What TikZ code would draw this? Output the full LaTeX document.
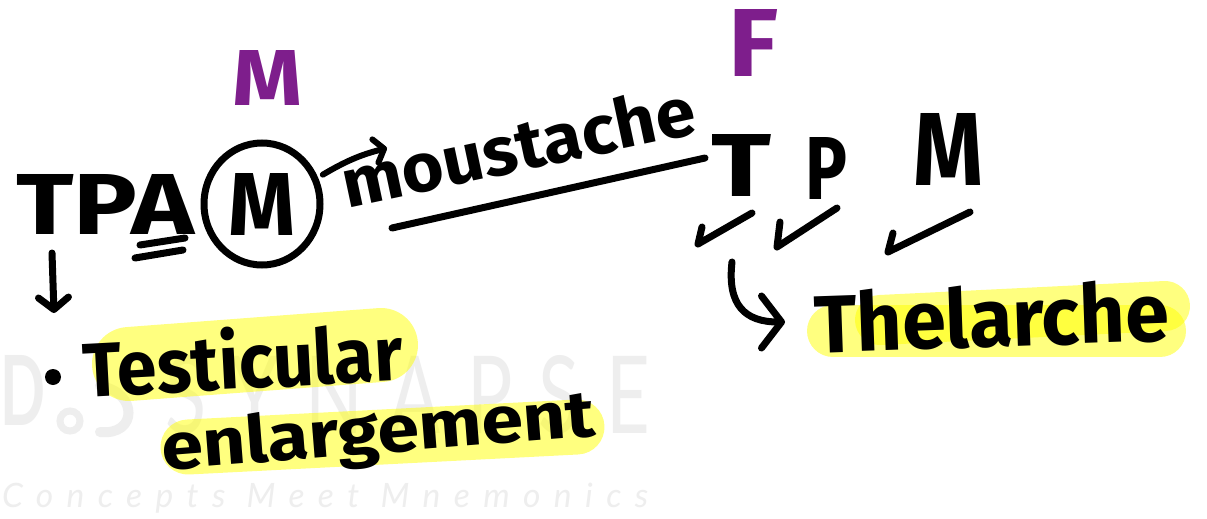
\documentclass[tikz,border=0pt]{standalone}
\usepackage{fontspec}
\setmainfont{Fira Sans}
\newfontfamily\wmfont{Lato}
\usepackage{graphicx}
\usetikzlibrary{arrows.meta,shapes.geometric}
\definecolor{mpurple}{RGB}{126,30,140}
\definecolor{hlyellow}{RGB}{255,255,0}
\definecolor{wmgray}{RGB}{238,238,238}
\tikzset{
  ink/.style={draw=black, line width=7pt, line cap=round, line join=round},
  hw/.style={inner sep=0pt, outer sep=0pt, text=black, font=\bfseries},
  hwp/.style={hw, text=mpurple},
  hl/.style={draw=hlyellow, draw opacity=0.5, line cap=round},
  wm/.style={inner sep=0pt, outer sep=0pt, text=wmgray, font=\wmfont},
}
\begin{document}
\begin{tikzpicture}[x=1pt,y=-1pt]
\useasboundingbox[fill=white] (0,0) rectangle (1207,519);

% watermark
\node[wm, anchor=base west, font=\wmfont\bfseries] (wmd) at (0,425) {\resizebox{45pt}{70pt}{D}};
\draw[wmgray, line width=7pt] (70,421) circle (10pt);
\draw[wmgray, line width=10pt, line cap=round] (100,386) .. controls (138,392) and (138,436) .. (100,432);
\node[wm, anchor=base west] (wmname) at (165,433) {\resizebox{485pt}{78pt}{\addfontfeatures{LetterSpace=35}SYNAPSE}};
\node[wm, anchor=base west] (wmtag) at (2,507) {\resizebox{646pt}{!}{\itshape\addfontfeatures{LetterSpace=40}Concepts Meet Mnemonics}};

% highlights
\draw[hl, line width=74pt] (129,364) -- (381,345);
\draw[hl, line width=55pt] (188,447) -- (577,427);
\draw[hl, line width=52pt] (833,331) -- (1160,331);
\draw[hl, line width=50pt] (880,320) -- (1165,306);

% purple labels
\node[hwp, anchor=base west] (mtop) at (232,105) {\resizebox{70pt}{55pt}{M}};
\node[hwp, anchor=base west] (ftop) at (728,77) {\resizebox{50pt}{67pt}{F}};

% TPAM
\node[hw, anchor=base west] (tpa) at (16,234) {\resizebox{178pt}{60pt}{TPA}};
\coordinate (ua1) at (140,245); \coordinate (ua2) at (185,238);
\coordinate (ub1) at (135,258); \coordinate (ub2) at (183,250);
\draw[ink] (ua1) -- (ua2);
\draw[ink] (ub1) -- (ub2);
\node[hw, draw, ellipse, line width=7pt, minimum width=116pt, minimum height=122pt] (cm) at (262,204) {\resizebox{67pt}{62pt}{M}};

% moustache
\node[hw, anchor=base west, rotate=12] (mous) at (347,208) {\resizebox{360pt}{52pt}{moustache}};
\coordinate (a1e) at (387,148);
\draw[ink, line width=6pt, -{Straight Barb[round,length=9pt,width=24pt]}] ([xshift=10pt]cm.30) to[bend left=8] (a1e);
\coordinate (ul1) at (392,228); \coordinate (ul2) at (705,158);
\draw[ink] (ul1) -- (ul2);

% T P M (female)
\node[hw, anchor=base west] (ft) at (711,196) {\resizebox{60pt}{62pt}{T}};
\node[hw, anchor=base west] (fp) at (805,199) {\resizebox{42pt}{62pt}{P}};
\node[hw, anchor=base west] (fm) at (913,185) {\resizebox{70pt}{72pt}{M}};
\draw[ink] (702,227) -- (698,244) -- (752,213);
\draw[ink] (780,222) -- (777,247) -- (837,208);
\draw[ink] (893,233) -- (888,252) -- (970,212);

% arrow to Thelarche
\coordinate (ca1) at (732,262);
\coordinate (ca2) at (785,322);
\draw[ink, -{Straight Barb[round,length=20pt,width=52pt]}] (ca1) .. controls (727,305) and (745,322) .. (ca2);
\node[hw, anchor=base west, rotate=2] (thel) at (815,353) {\resizebox{355pt}{62pt}{Thelarche}};

% left branch
\coordinate (da1) at (52,253);
\coordinate (da2) at (54,313);
\draw[ink, -{Straight Barb[round,length=12pt,width=30pt]}] (da1) -- (da2);
\node[circle, fill=black, minimum size=16pt, inner sep=0pt] (bul) at (53,377) {};
\node[hw, anchor=base west, rotate=3] (test) at (84,397) {\resizebox{320pt}{62pt}{Testicular}};
\node[hw, anchor=base west, rotate=4.5] (enl) at (163,470) {\resizebox{435pt}{50pt}{enlargement}};
\end{tikzpicture}
\end{document}
